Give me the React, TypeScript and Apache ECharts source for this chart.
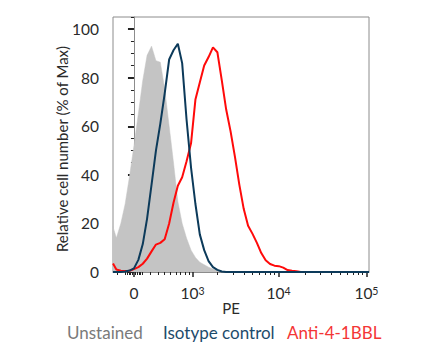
import React, { useEffect, useRef } from "react";
import * as echarts from "echarts";

// Histogram bin centres (PE fluorescence intensity)
const peBins = [
  -260, -215, -158, -105, -52, 0, 52, 105, 158, 215,
  274, 336, 403, 477, 555, 640, 733, 836, 955, 1083,
  1225, 1384, 1561, 1759, 1980, 2228, 2504, 2815, 3162, 3552,
  3989, 4478, 5036, 5648, 6337, 7110, 7979, 8955, 10049, 11275,
  12650, 14195, 15927, 17870, 20051, 22500, 30000, 50000, 70000, 107000,
];

// Relative cell number (% of Max)
const unstained = [
  18.6, 14, 20, 28, 39.5, 52, 65.2, 78.9, 89.2, 93,
  87, 86.4, 75.5, 60, 45, 29, 20, 14, 9, 6,
  4, 3, 2, 1.2, 0.6, 0.2, 0, 0, 0, 0,
  0, 0, 0, 0, 0, 0, 0, 0, 0, 0,
  0, 0, 0, 0, 0, 0, 0, 0, 0, 0,
];
const isotype = [
  0, 0, 0, 0.2, 0.6, 1.5, 5, 11.5, 22, 36,
  50, 61, 73.4, 87.5, 91.3, 94, 86, 63, 43, 28,
  15.5, 9, 4.5, 2, 0.9, 0.2, 0, 0, 0, 0,
  0, 0, 0, 0, 0, 0, 0, 0, 0, 0,
  0, 0, 0, 0, 0, 0, 0, 0, 0, 0,
];
const anti41bbl = [
  3.5, 1.0, 0.5, 0.4, 0.5, 1.2, 2, 3.4, 5.5, 8.5,
  11.3, 12, 13.5, 20, 28.5, 35.5, 39, 45.5, 53, 71,
  78, 85, 88.5, 92.5, 90.5, 79, 67, 58, 47.5, 36,
  26, 19, 15.7, 12, 7.8, 4.8, 3.3, 2.6, 2.4, 1.8,
  0.8, 0.5, 0.3, 0, 0, 0, 0, 0, 0, 0,
];

const xDomain = [-260, 107000];
const xMajorTicks = [0, 1000, 10000, 100000];
const xMajorLabels = ["0", "10{sup|3}", "10{sup|4}", "10{sup|5}"];
const xMinorTicks = [
  -200, -100, -80, -60, -40, -20, 20, 40, 60, 80,
  100, 200, 300, 400, 500, 600, 700, 800, 900,
  2000, 3000, 4000, 5000, 6000, 7000, 8000, 9000,
  20000, 30000, 40000, 50000, 60000, 70000, 80000, 90000,
];
const yMajorTicks = [0, 20, 40, 60, 80, 100];
const yMinorTicks = [5, 10, 15, 25, 30, 35, 45, 50, 55, 65, 70, 75, 85, 90, 95, 105];
const legendNames = ["Unstained", "Isotype control", "Anti-4-1BBL"];
const xTitle = "PE";
const yTitle = "Relative cell number (% of Max)";

const COFACTOR = 450;
const T = (v: number) => Math.asinh(v / COFACTOR) / Math.LN10;

const FONT = "Lato, 'DejaVu Sans', sans-serif";
const TEXT = "#2a2a2a";

export default function App() {
  const ref = useRef<HTMLDivElement>(null);

  useEffect(() => {
    document.body.style.margin = "0";
    if (!ref.current) return;
    const chart = echarts.init(ref.current, undefined, { renderer: "svg" });

    const majorT = xMajorTicks.map(T);
    const minorT = xMinorTicks.map(T);
    const xmin = T(xDomain[0]);
    const xmax = T(xDomain[1]);

    const toPairs = (arr: number[]) => peBins.map((pe, i) => [T(pe), arr[i]]);

    const option: any = {
      animation: false,
      grid: {
        left: 113,
        right: 71,
        top: 17,
        bottom: 81,
        show: true,
        borderColor: "#8c8c8c",
        borderWidth: 1,
        backgroundColor: "transparent",
      },
      xAxis: [
        {
          type: "value",
          position: "bottom",
          min: xmin,
          max: xmax,
          splitLine: { show: false },
          axisLine: { show: true, lineStyle: { color: "#8c8c8c", width: 1 } },
          axisTick: {
            show: true,
            customValues: majorT,
            length: 5,
            lineStyle: { color: "#222", width: 1.5 },
          },
          axisLabel: {
            show: true,
            customValues: majorT,
            margin: 13,
            color: TEXT,
            fontSize: 15.5,
            fontFamily: FONT,
            formatter: (val: number) => {
              let best = 0;
              let bd = Infinity;
              majorT.forEach((m, i) => {
                const d = Math.abs(m - val);
                if (d < bd) {
                  bd = d;
                  best = i;
                }
              });
              return xMajorLabels[best];
            },
            rich: {
              sup: { fontSize: 10.5, verticalAlign: "top", color: TEXT, fontFamily: FONT },
            },
          },
        },
        {
          type: "value",
          position: "bottom",
          min: xmin,
          max: xmax,
          splitLine: { show: false },
          axisLine: { show: false },
          axisTick: {
            show: true,
            customValues: minorT,
            length: 3,
            lineStyle: { color: "#222", width: 1 },
          },
          axisLabel: { show: false },
        },
      ],
      yAxis: [
        {
          type: "value",
          position: "left",
          min: 0,
          max: 105,
          splitLine: { show: false },
          axisLine: { show: true, lineStyle: { color: "#8c8c8c", width: 1 } },
          axisTick: {
            show: true,
            customValues: yMajorTicks,
            length: 6,
            lineStyle: { color: "#222", width: 2 },
          },
          axisLabel: {
            show: true,
            customValues: yMajorTicks,
            margin: 14,
            color: TEXT,
            fontSize: 15.5,
            fontFamily: FONT,
          },
        },
        {
          type: "value",
          position: "left",
          min: 0,
          max: 105,
          splitLine: { show: false },
          axisLine: { show: false },
          axisTick: {
            show: true,
            customValues: yMinorTicks,
            length: 3,
            lineStyle: { color: "#222", width: 1 },
          },
          axisLabel: { show: false },
        },
      ],
      series: [
        {
          name: legendNames[0],
          type: "line",
          xAxisIndex: 0,
          yAxisIndex: 0,
          data: toPairs(unstained),
          showSymbol: false,
          symbol: "none",
          lineStyle: { color: "#c4c4c4", width: 0.5 },
          areaStyle: { color: "#c4c4c4", opacity: 1 },
          z: 1,
        },
        {
          name: legendNames[2],
          type: "line",
          xAxisIndex: 0,
          yAxisIndex: 0,
          data: toPairs(anti41bbl),
          showSymbol: false,
          symbol: "none",
          lineStyle: { color: "#ff0a0a", width: 2 },
          z: 2,
        },
        {
          name: legendNames[1],
          type: "line",
          xAxisIndex: 0,
          yAxisIndex: 0,
          data: toPairs(isotype),
          showSymbol: false,
          symbol: "none",
          lineStyle: { color: "#0c3a5a", width: 2 },
          z: 3,
        },
      ],
      graphic: [
        {
          type: "text",
          x: 231,
          y: 308,
          style: {
            text: xTitle,
            fill: TEXT,
            fontSize: 15,
            fontFamily: FONT,
            align: "center",
            verticalAlign: "middle",
          },
        },
        {
          type: "text",
          x: 62,
          y: 149,
          rotation: Math.PI / 2,
          style: {
            text: yTitle,
            fill: TEXT,
            fontSize: 15,
            fontFamily: FONT,
            align: "center",
            verticalAlign: "middle",
          },
        },
        {
          type: "text",
          left: 67,
          top: 324,
          style: { text: legendNames[0], fill: "#7a7a7a", fontSize: 17, fontFamily: FONT },
        },
        {
          type: "text",
          left: 163,
          top: 324,
          style: { text: legendNames[1], fill: "#1d4b6b", fontSize: 17, fontFamily: FONT },
        },
        {
          type: "text",
          left: 287,
          top: 324,
          style: { text: legendNames[2], fill: "#f43636", fontSize: 17, fontFamily: FONT },
        },
      ],
    };

    chart.setOption(option);
    return () => chart.dispose();
  }, []);

  return <div ref={ref} style={{ width: 440, height: 353 }} />;
}
